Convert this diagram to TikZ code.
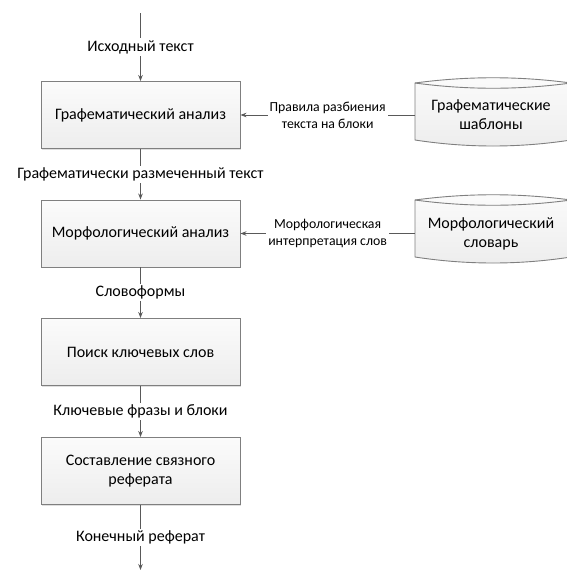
\documentclass[tikz,border=0pt]{standalone}
\usepackage{fontspec}
\setmainfont{Carlito}
\usetikzlibrary{arrows.meta,calc,shadows}

\definecolor{lineclr}{HTML}{595959}
\definecolor{edgeclr}{HTML}{7F7F7F}
\definecolor{boxtop}{HTML}{FBFBFB}
\definecolor{boxbot}{HTML}{EDEDED}

\tikzset{
  procbox/.style={draw=edgeclr,line width=.9pt,top color=boxtop,bottom color=boxbot,
    minimum width=199pt,minimum height=67pt,align=center,
    drop shadow={shadow xshift=1pt,shadow yshift=-1pt,opacity=.25}},
  drumtext/.style={minimum width=152pt,minimum height=40pt,align=center},
  drumfill/.style={draw=edgeclr,line width=.9pt,top color=boxtop,bottom color=boxbot},
  flow/.style={draw=lineclr,line width=.8pt,-{Stealth[length=6pt,width=4.5pt]}},
  lbl/.style={fill=white,inner sep=2pt,align=center},
  sidelbl/.style={fill=white,inner sep=2pt,align=center,font=\fontsize{13.8}{17}\selectfont}
}

\begin{document}
\begin{tikzpicture}[x=1pt,y=1pt,font=\fontsize{16}{19}\selectfont]
\useasboundingbox (0,0) rectangle (566,-571);
\coordinate (in) at (140.5,-13);
\coordinate (out) at (140.5,-570);
\node[procbox] (b1) at (140.5,-115) {Графематический анализ};
\node[procbox] (b2) at (140.5,-233.5) {Морфологический анализ};
\node[procbox] (b3) at (140.5,-352) {Поиск ключевых слов};
\node[procbox] (b4) at (140.5,-471) {Составление связного\\реферата};
% хранилища справа
\path[drumfill] (415,-83) .. controls +(52,7) and +(-52,7) .. (571,-83) -- (571,-140)
  .. controls +(-52,-8) and +(52,-8) .. (415,-140) -- cycle;
\draw[edgeclr,line width=.9pt] (415,-83) .. controls +(52,-7) and +(-52,-7) .. (571,-83);
\node[drumtext] (c1) at (491,-115) {Графематические\\шаблоны};
\path[drumfill] (415,-200) .. controls +(52,7) and +(-52,7) .. (571,-200) -- (571,-257)
  .. controls +(-52,-8) and +(52,-8) .. (415,-257) -- cycle;
\draw[edgeclr,line width=.9pt] (415,-200) .. controls +(52,-7) and +(-52,-7) .. (571,-200);
\node[drumtext] (c2) at (491,-233.5) {Морфологический\\словарь};
% потоки
\draw[flow] (in) -- node[lbl] {Исходный текст} (b1);
\draw[flow] (b1) -- node[lbl] {Графематически размеченный текст} (b2);
\draw[flow] (b2) -- node[lbl] {Словоформы} (b3);
\draw[flow] (b3) -- node[lbl] {Ключевые фразы и блоки} (b4);
\draw[flow] (b4) -- node[lbl] {Конечный реферат} (out);
\draw[flow] (c1) -- node[sidelbl] {Правила разбиения\\текста на блоки} (b1);
\draw[flow] (c2) -- node[sidelbl] {Морфологическая\\интерпретация слов} (b2);
\end{tikzpicture}
\end{document}
